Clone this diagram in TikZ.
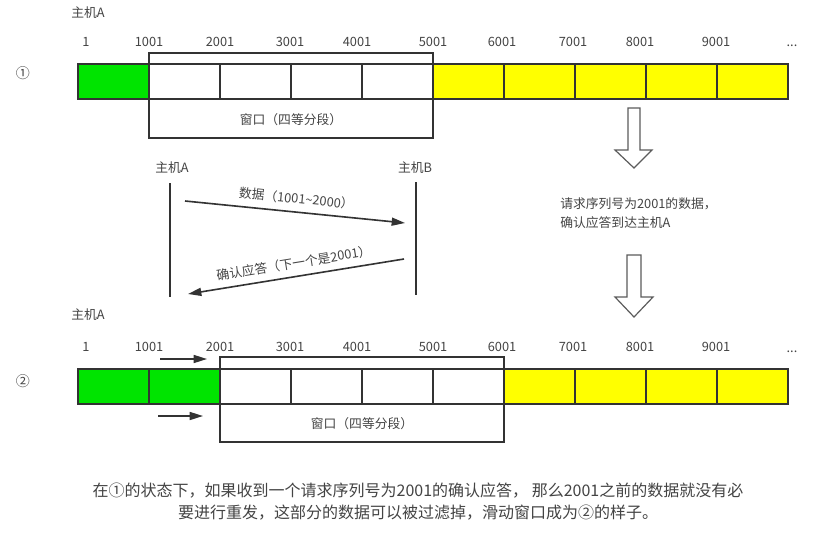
\documentclass[tikz,border=0pt]{standalone}
\usepackage{fontspec}
\setmainfont{Noto Sans CJK SC}
\usetikzlibrary{arrows.meta}
\definecolor{txt}{HTML}{444444}
\definecolor{linec}{HTML}{333333}
\definecolor{cgreen}{HTML}{00E400}
\definecolor{cyellow}{HTML}{FFFF00}
\begin{document}
\begin{tikzpicture}[x=0.75pt,y=-0.75pt,
  lbl/.style={text=txt,inner sep=0pt,font=\fontsize{9.6pt}{11pt}\selectfont},
  cell/.style={draw=linec,line width=1.1pt,inner sep=0pt,outer sep=0pt,anchor=north west,
    minimum width=71*0.75pt,minimum height=35*0.75pt},
  winbox/.style={draw=linec,line width=1.1pt,inner sep=0pt,outer sep=0pt,anchor=north west,
    minimum width=284*0.75pt,minimum height=85*0.75pt},
  life/.style={draw=linec,line width=1.2pt},
  msg/.style={draw=linec,line width=1.2pt,-{Triangle[length=10pt,width=6pt]}},
  hollow/.style={draw=linec!80,line width=0.9pt,fill=white,line join=miter}]
\useasboundingbox (0,0) rectangle (816,535);
\fill[white] (0,0) rectangle (816,535);

% ---------- state 1 ----------
\node[lbl] (hA1) at (88,13) {主机A};
\node[lbl,font=\fontsize{10.5pt}{11pt}\selectfont] (n1) at (23,73) {①};
\foreach \t/\x [count=\i] in {1/86,1001/149,2001/220,3001/290,4001/357,5001/433,6001/502,7001/573,8001/640,9001/716}
  \node[lbl] (a\i) at (\x,42) {\t};
\node[lbl,anchor=base] (a11) at (792,47) {...};
\node[winbox] (win1) at (149,53) {};
\node[lbl] (wt1) at (291,120) {窗口（四等分段）};
\node[cell,fill=cgreen] (r1g) at (78,64) {};
\foreach \k in {0,1,2,3}
  \node[cell,fill=white] (r1w\k) at (149+71*\k,64) {};
\foreach \k in {0,1,2,3,4}
  \node[cell,fill=cyellow] (r1y\k) at (433+71*\k,64) {};

% ---------- sequence ----------
\node[lbl] (sA) at (172,168) {主机A};
\node[lbl] (sB) at (415,168) {主机B};
\coordinate (A1) at (170,183); \coordinate (A2) at (170,297);
\coordinate (B1) at (416,182); \coordinate (B2) at (416,295);
\draw[life] (A1) -- (A2);
\draw[life] (B1) -- (B2);
\coordinate (d1) at (185,201); \coordinate (d2) at (405,223);
\coordinate (k1) at (404,259); \coordinate (k2) at (188,294);
\draw[msg] (d1) -- node[lbl,midway,sloped,above=5pt] {数据（1001\textasciitilde 2000）} (d2);
\draw[msg] (k1) -- node[lbl,midway,sloped,above=5pt] {确认应答（下一个是2001）} (k2);

% ---------- right ----------
\draw[hollow] (628,108) -- (640,108) -- (640,150) -- (652,150) -- (634,168) -- (615,150) -- (628,150) -- cycle;
\node[lbl,anchor=west,align=left,font=\fontsize{9.6pt}{14.25pt}\selectfont] (note) at (560,213) {请求序列号为2001的数据，\\确认应答到达主机A};
\draw[hollow] (627,255) -- (641,255) -- (641,297) -- (653,297) -- (634,317) -- (615,297) -- (627,297) -- cycle;

% ---------- state 2 ----------
\node[lbl] (hA2) at (88,315) {主机A};
\node[lbl,font=\fontsize{10.5pt}{11pt}\selectfont] (n2) at (23,381) {②};
\foreach \t/\x [count=\i] in {1/86,1001/149,2001/220,3001/290,4001/357,5001/433,6001/502,7001/573,8001/640,9001/716}
  \node[lbl] (b\i) at (\x,347) {\t};
\node[lbl,anchor=base] (b11) at (792,352) {...};
\node[winbox] (win2) at (220,357) {};
\node[lbl] (wt2) at (362,424) {窗口（四等分段）};
\foreach \k in {0,1}
  \node[cell,fill=cgreen] (r2g\k) at (78+71*\k,369) {};
\foreach \k in {0,1,2,3}
  \node[cell,fill=white] (r2w\k) at (220+71*\k,369) {};
\foreach \k in {0,1,2,3}
  \node[cell,fill=cyellow] (r2y\k) at (504+71*\k,369) {};
\coordinate (s1) at (160,359); \coordinate (s2) at (207,359);
\coordinate (t1) at (158,416); \coordinate (t2) at (203,416);
\draw[msg] (s1) -- (s2);
\draw[msg] (t1) -- (t2);

% ---------- caption ----------
\node[text=txt,inner sep=0pt,align=center,font=\fontsize{12pt}{16.5pt}\selectfont] (cap) at (418,502)
  {在①的状态下，如果收到一个请求序列号为2001的确认应答， 那么2001之前的数据就没有必\\要进行重发，这部分的数据可以被过滤掉，滑动窗口成为②的样子。};
\end{tikzpicture}
\end{document}
